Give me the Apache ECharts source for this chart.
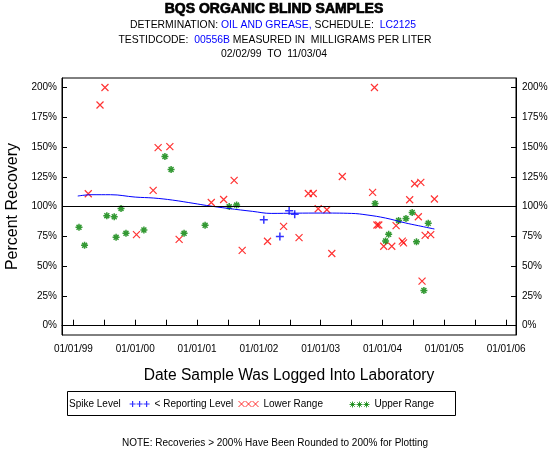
<!DOCTYPE html>
<html>
<head>
<meta charset="utf-8">
<script src="https://cdn.jsdelivr.net/npm/echarts@6/dist/echarts.min.js"></script>
<style>html,body{margin:0;padding:0;background:#fff}#c{width:550px;height:450px}</style>
</head>
<body>
<div id="c"></div>
<script>
// ---- data (dates as decimal years) ----
var xTickLabels = [1999, 2000, 2001, 2002, 2003, 2004, 2005, 2006];
var xTickMarks = [1999, 1999.5, 2000, 2000.5, 2001, 2001.5, 2002, 2002.5, 2003, 2003.5, 2004, 2004.5, 2005, 2005.5, 2006];
var yTickLabels = [0, 25, 50, 75, 100, 125, 150, 175, 200];

var reportingX = [2002.08, 2002.34, 2002.49, 2002.58];
var reportingY = [89, 75, 96.6, 93.5];

var lowerX = [1999.24, 1999.43, 1999.51, 2000.02, 2000.29, 2000.37, 2000.56, 2000.71, 2001.23, 2001.43,
              2001.60, 2001.73, 2002.14, 2002.40, 2002.65, 2002.80, 2002.88, 2002.96, 2003.10, 2003.18,
              2003.35, 2003.84, 2003.87, 2003.91, 2003.94, 2004.02, 2004.15, 2004.22, 2004.32, 2004.34,
              2004.44, 2004.52, 2004.62, 2004.58, 2004.64, 2004.69, 2004.78, 2004.84];
var lowerY = [110.8, 185.3, 200, 76.5, 113.6, 149.6, 150.4, 72.5, 103.5, 106,
              122, 63.3, 70.9, 83.4, 74, 111, 111, 98.2, 97.4, 60.6,
              125.3, 111.9, 200, 84.6, 84.6, 66.7, 66.7, 84, 71, 69.5,
              105.8, 119.2, 120.3, 91.5, 37.4, 75.9, 76.5, 106.4];

var upperX = [1999.09, 1999.18, 1999.54, 1999.66, 1999.69, 1999.77, 1999.85, 2000.14, 2000.48, 2000.58,
              2000.79, 2001.13, 2001.52, 2001.64, 2003.88, 2004.05, 2004.10, 2004.26, 2004.38, 2004.48,
              2004.55, 2004.67, 2004.74];
var upperY = [82.6, 67.5, 92.4, 91.5, 74.2, 98.5, 77.6, 80.4, 142, 131.2,
              77.6, 84.3, 100, 101.3, 102.7, 71.2, 76.7, 88.4, 90.1, 95.1,
              70.4, 29.6, 86];

var trendX = [1999.07, 1999.3, 1999.6, 2000.0, 2000.3, 2000.6, 2000.95, 2001.15, 2001.5, 2001.9,
              2002.2, 2002.6, 2003.0, 2003.5, 2003.75, 2004.05, 2004.37, 2004.58, 2004.84];
var trendY = [108.9, 110, 110, 108, 107.2, 105.5, 102.7, 101, 98.5, 96,
              94.3, 94.5, 94.6, 94.3, 93, 90.4, 86.3, 84, 81.2];

var spikeLevel = 100;

function pairs(xs, ys) { return xs.map(function (x, i) { return [x, ys[i]]; }); }

var FONT = '"Liberation Sans", Arial, sans-serif';
var RED = '#ff0000', GREEN = '#008000', BLUE = '#0000ff';
var xSym = 'path://M0,0L10,10M10,0L0,10';
var plusSym = 'path://M5,0L5,10M0,5L10,5';
var starSym = 'path://M5,0L5,10M0,5L10,5M1.5,1.5L8.5,8.5M8.5,1.5L1.5,8.5';

var chart = echarts.init(document.getElementById('c'), null, {renderer: 'canvas'});

function yAxisDef(pos, margin) {
  return {
    type: 'value', position: pos, min: -7.8, max: 208,
    axisLine: {show: true, lineStyle: {color: '#000', width: 1}},
    axisTick: {show: true, inside: true, length: 5, customValues: yTickLabels, lineStyle: {color: '#000'}},
    axisLabel: {customValues: yTickLabels, formatter: '{value}%', color: '#000', fontSize: 10, fontFamily: FONT, margin: margin},
    splitLine: {show: false}
  };
}

var legendText = {fontSize: 10, fontFamily: FONT, color: '#000'};

var option = {
  animation: false,
  backgroundColor: '#fff',
  grid: {left: 62, top: 78, right: 34, bottom: 115, show: true, borderColor: '#000', borderWidth: 1,
    backgroundColor: 'transparent', containLabel: false, outerBoundsMode: 'none'},
  xAxis: {
    type: 'value', min: 1998.815, max: 2006.16,
    name: 'Date Sample Was Logged Into Laboratory', nameLocation: 'middle', nameGap: 33,
    nameTextStyle: {fontSize: 15.6, fontFamily: FONT, color: '#000'},
    axisLine: {show: true, lineStyle: {color: '#000', width: 1}},
    axisTick: {show: true, inside: true, length: 6, customValues: xTickMarks, lineStyle: {color: '#000'}},
    axisLabel: {customValues: xTickLabels, color: '#000', fontSize: 10, fontFamily: FONT, margin: 9,
      formatter: function (v) { return '01/01/' + String(Math.round(v)).slice(2); }},
    splitLine: {show: false}
  },
  yAxis: [
    Object.assign(yAxisDef('left', 5), {name: 'Percent Recovery', nameLocation: 'middle', nameGap: 37.5,
      nameTextStyle: {fontSize: 16, fontFamily: FONT, color: '#000'}}),
    yAxisDef('right', 6)
  ],
  legend: [
    {data: [{name: '< Reporting Level', icon: 'path://M0,3L6,3M3,0L3,6M7,3L13,3M10,0L10,6M14,3L20,3M17,0L17,6'}],
     left: 129, top: 399, padding: 0, itemWidth: 20, itemHeight: 6,
     itemStyle: {borderWidth: 1.2}, textStyle: legendText},
    {data: [{name: 'Lower Range', icon: 'path://M0,0L6,6M6,0L0,6M7,0L13,6M13,0L7,6M14,0L20,6M20,0L14,6'}],
     left: 238, top: 399, padding: 0, itemWidth: 20, itemHeight: 6,
     itemStyle: {borderWidth: 1}, textStyle: legendText},
    {data: [{name: 'Upper Range', icon: 'path://M3,0L3,6M0,3L6,3M0.8,0.8L5.2,5.2M5.2,0.8L0.8,5.2M10,0L10,6M7,3L13,3M7.8,0.8L12.2,5.2M12.2,0.8L7.8,5.2M17,0L17,6M14,3L20,3M14.8,0.8L19.2,5.2M19.2,0.8L14.8,5.2'}],
     left: 347, top: 399, padding: 0, itemWidth: 20, itemHeight: 6,
     itemStyle: {color: 'none', borderWidth: 1}, textStyle: legendText}
  ],
  series: [
    {
      name: 'Spike Level', type: 'line', data: [], silent: true,
      markLine: {silent: true, symbol: 'none', label: {show: false},
        lineStyle: {color: '#000', width: 1, type: 'solid'}, data: [{yAxis: spikeLevel}]}
    },
    {
      name: 'Trend', type: 'line', data: pairs(trendX, trendY), smooth: 0.4, showSymbol: false,
      lineStyle: {color: BLUE, width: 1}, itemStyle: {color: BLUE}, z: 3
    },
    {
      name: '< Reporting Level', type: 'scatter', data: pairs(reportingX, reportingY),
      symbol: plusSym, symbolSize: 8,
      itemStyle: {color: BLUE, borderColor: BLUE, borderWidth: 1.5}
    },
    {
      name: 'Lower Range', type: 'scatter', data: pairs(lowerX, lowerY),
      symbol: xSym, symbolSize: 7,
      itemStyle: {color: RED, borderColor: RED, borderWidth: 1.2}
    },
    {
      name: 'Upper Range', type: 'scatter', data: pairs(upperX, upperY),
      symbol: starSym, symbolSize: 7,
      itemStyle: {color: GREEN, borderColor: GREEN, borderWidth: 1.5}
    }
  ],
  graphic: [
    {type: 'text', x: 274, y: 9, style: {text: 'BQS ORGANIC BLIND SAMPLES', fontSize: 14, fontWeight: 'bold', fontFamily: FONT,
      fill: '#000', stroke: '#000', lineWidth: 0.7, align: 'center', verticalAlign: 'middle'}},
    {type: 'text', x: 273, y: 25, style: {
      text: '{k|DETERMINATION: }{b|OIL AND GREASE,}{k| SCHEDULE:  }{b|LC2125}',
      align: 'center', verticalAlign: 'middle',
      rich: {k: {fill: '#000', fontSize: 10.4, fontFamily: FONT}, b: {fill: BLUE, fontSize: 10.4, fontFamily: FONT}}}},
    {type: 'text', x: 275, y: 40, style: {
      text: '{k|TESTIDCODE:  }{b|00556B}{k| MEASURED IN  MILLIGRAMS PER LITER}',
      align: 'center', verticalAlign: 'middle',
      rich: {k: {fill: '#000', fontSize: 10.4, fontFamily: FONT}, b: {fill: BLUE, fontSize: 10.4, fontFamily: FONT}}}},
    {type: 'text', x: 274, y: 54, style: {text: '02/02/99  TO  11/03/04', fontSize: 10.4, fontFamily: FONT, fill: '#000',
      align: 'center', verticalAlign: 'middle'}},
    {type: 'rect', shape: {x: 67.5, y: 391.5, width: 388, height: 24}, style: {fill: 'none', stroke: '#000', lineWidth: 1}},
    {type: 'text', x: 69, y: 404, style: {text: 'Spike Level', fontSize: 10, fontFamily: FONT, fill: '#000', align: 'left', verticalAlign: 'middle'}},
    {type: 'text', x: 275, y: 443, style: {text: 'NOTE: Recoveries > 200% Have Been Rounded to 200% for Plotting', fontSize: 10, fontFamily: FONT,
      fill: '#000', align: 'center', verticalAlign: 'middle'}}
  ]
};
chart.setOption(option);
</script>
</body>
</html>
